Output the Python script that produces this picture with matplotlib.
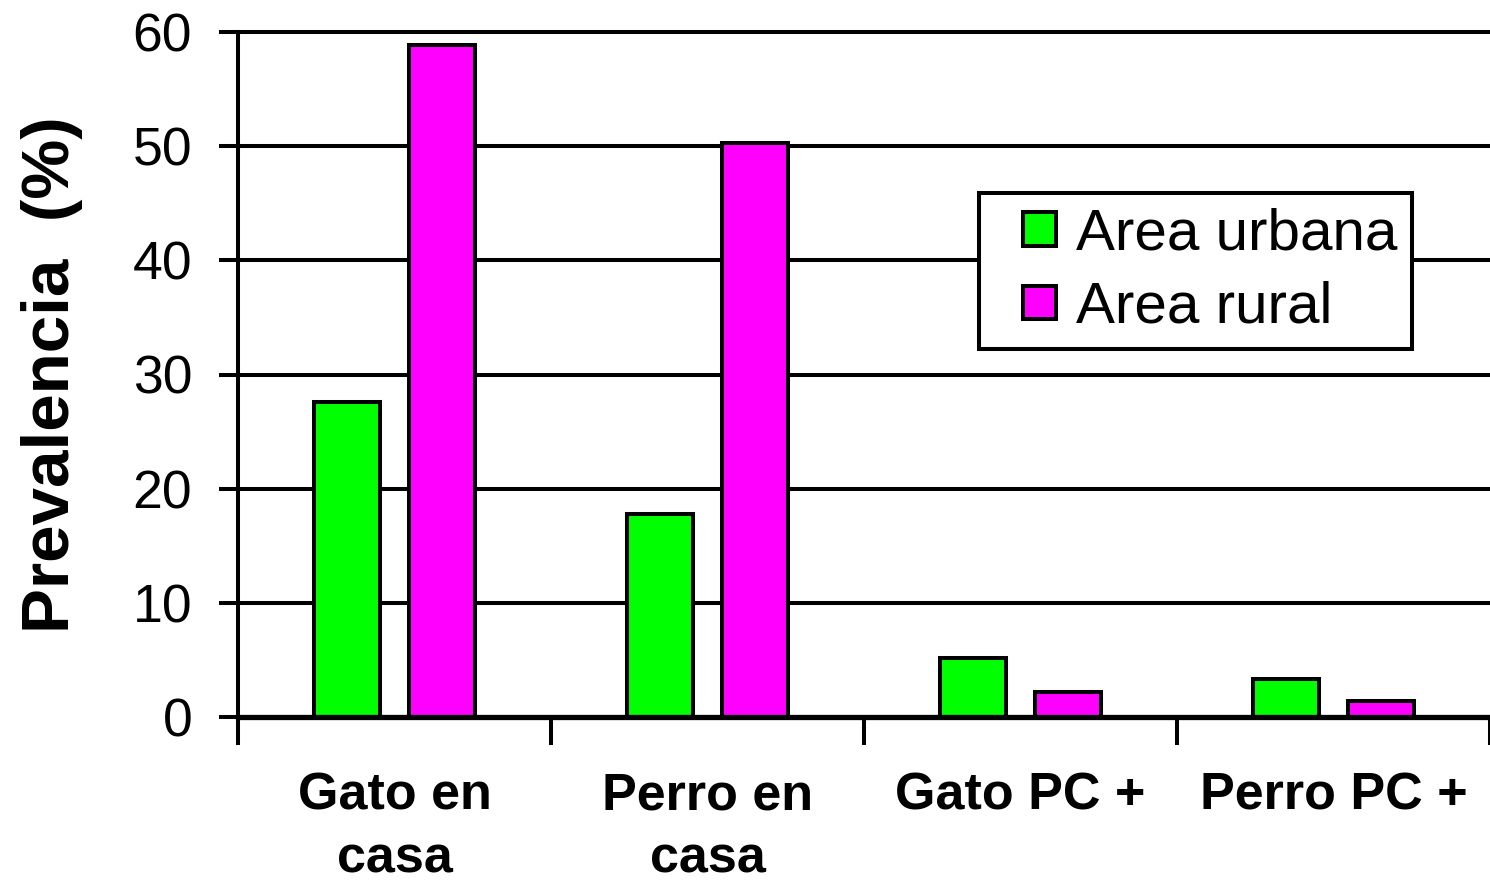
import matplotlib
matplotlib.use("Agg")
import matplotlib.pyplot as plt
from matplotlib.legend_handler import HandlerPatch
from matplotlib.patches import Rectangle
import numpy as np

categories = ["Gato en\ncasa", "Perro en\ncasa", "Gato PC +", "Perro PC +"]
series_names = ["Area urbana", "Area rural"]
urbana = [27.6, 17.8, 5.2, 3.3]
rural = [58.9, 50.3, 2.2, 1.4]
colors = ["#00ff00", "#ff00ff"]
y_ticks = [0, 10, 20, 30, 40, 50, 60]

plt.rcParams["font.family"] = ["Liberation Sans", "DejaVu Sans"]

LW = 2.9

fig = plt.figure(figsize=(14.9, 8.85), dpi=100)
ax = fig.add_axes([238 / 1490, 1 - 717 / 885, 1 - 238 / 1490, (717 - 32) / 885])

centers = np.arange(len(categories)) + 0.5
width = 0.21
offset = 0.152
ax.bar(centers - offset, urbana, width, color=colors[0], edgecolor="black",
       linewidth=LW, zorder=3)
ax.bar(centers + offset, rural, width, color=colors[1], edgecolor="black",
       linewidth=LW, zorder=3)

ax.set_xlim(0, len(categories))
ax.set_ylim(0, 60)

# horizontal gridlines
for y in y_ticks[1:]:
    ax.axhline(y, color="black", linewidth=LW, zorder=1, clip_on=False)
ax.axhline(0, color="black", linewidth=3.8, zorder=4, clip_on=False)

for side in ["top", "right", "bottom"]:
    ax.spines[side].set_visible(False)
ax.spines["left"].set_linewidth(LW)

ax.set_yticks(y_ticks)
ax.set_yticklabels([str(v) for v in y_ticks], fontsize=38.5)
ax.tick_params(axis="y", length=14, width=LW, pad=19)

# category boundaries as downward ticks, names centred between them
ax.set_xticks(np.arange(len(categories) + 1))
ax.set_xticklabels([])
ax.tick_params(axis="x", which="major", length=20, width=LW, direction="out")
ax.set_xticks(centers, minor=True)
ax.set_xticklabels(categories, minor=True, fontsize=37.5, fontweight="bold",
                   linespacing=1.38)
ax.tick_params(axis="x", which="minor", length=0, pad=39)

ax.set_ylabel("Prevalencia  (%)", fontsize=48.5, fontweight="bold", labelpad=36)


def square_handle(legend, orig_handle, xdescent, ydescent, width, height, fontsize):
    side = 24
    return Rectangle((-xdescent + width - side, -ydescent + (height - side) / 2),
                     side, side)


legend_handles = [Rectangle((0, 0), 1, 1, facecolor=c, edgecolor="black", linewidth=LW)
                  for c in colors]
leg = ax.legend(legend_handles, series_names, loc="upper left",
                bbox_to_anchor=((979 - 238) / 1252, 1 - (193 - 32) / 685),
                fontsize=42, frameon=True, fancybox=False, edgecolor="black",
                framealpha=1, handlelength=1.07, handleheight=0.7,
                handletextpad=0.34, borderpad=0.25, labelspacing=0.33,
                borderaxespad=0,
                handler_map={Rectangle: HandlerPatch(patch_func=square_handle)})
leg.get_frame().set_linewidth(LW)
leg.set_zorder(5)

fig.savefig("out.png", dpi=100, facecolor="white")
